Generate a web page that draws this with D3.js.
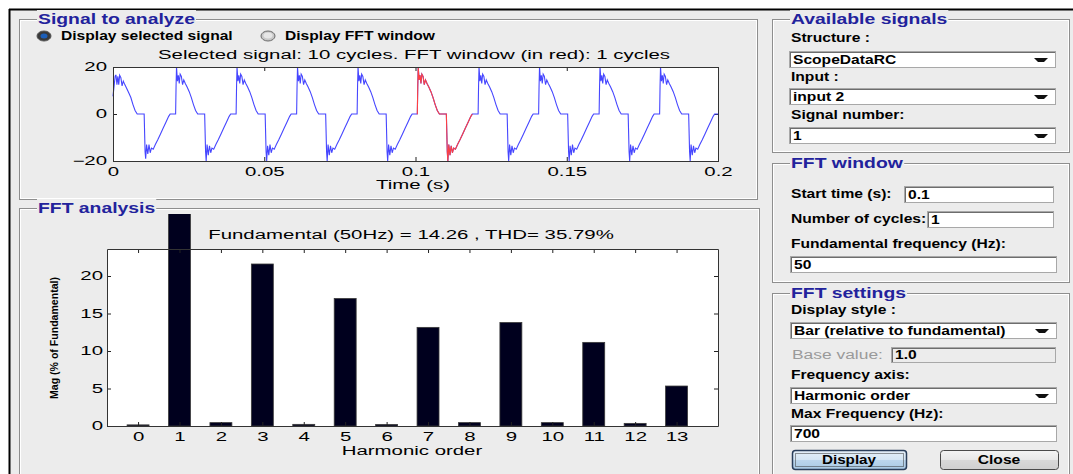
<!DOCTYPE html>
<html><head><meta charset="utf-8">
<script src="https://cdn.jsdelivr.net/npm/d3@7"></script>
<style>
html,body{margin:0;padding:0;background:#fff;}
svg{display:block;font-family:"Liberation Sans",Arial,Helvetica,sans-serif;}
</style></head><body>
<svg id="fig" width="1073" height="474"></svg>
<script>
// ---------------- data ----------------
const harmonicOrders = [0,1,2,3,4,5,6,7,8,9,10,11,12,13];
const harmonicMag    = [0.15,100,0.45,21.6,0.22,17.0,0.2,13.15,0.45,13.8,0.45,11.15,0.35,5.33]; // % of fundamental
const magTicks       = [0,5,10,15,20];
const timeTicks      = [0,0.05,0.1,0.15,0.2];
const timeTickLabels = ["0","0.05","0.1","0.15","0.2"];
const signalTicks    = [-20,0,20];
const fundamentalHz  = 50;
const fundamentalMag = 14.26;
const thdPct         = 35.79;
const totalCycles    = 10;
const fftWindowStart = 0.1;   // s
const fftWindowCycles = 1;

// sampled waveform: first sample, then per-cycle samples at the listed offsets (ms) after each cycle start
const leadIn        = [0, 7.5];          // [ms, value]
const tailOut       = [200, 0];          // [ms, value]
const cycleStartMs  = [0.7, 20.7, 40.7, 60.7, 80.7, 100.6, 120.7, 140.7, 160.7, 180.7];
const sampleOffsetMs = [0,0.15,0.3,0.6,0.9,1.2,1.5,1.9,2.3,2.7,3.2,3.8,4.5,5.2,5.9,6.6,7.3,9.6,9.75,9.9,10.1,10.4,10.8,11.2,11.6,12.0,12.6,13.3,14.1,15.0,15.9,16.8,17.7,18.2,19.99];
const cycleValues = [
  [16,16.5,16.5,12.5,16,12.5,16.5,15.5,12,14,12.5,11,9,7,4,1.5,0, 0,-8,-16,-19,-13,-17,-13,-16.5,-14.5,-15,-13,-11,-8.5,-6,-3.5,-1,0,0],
  [0,12,20,14,16.5,13,17,16,12.5,14.5,13,11.5,9.5,7,4,1.5,0, 0,-8,-16,-20,-13,-17.5,-13.5,-16.5,-14.5,-15,-13,-11,-8.5,-6,-3.5,-1,0,0],
  [0,12,20,14,16.5,13,17,16,12.5,14.5,13,11.5,9.5,7,4,1.5,0, 0,-8,-16,-20,-13.5,-17.5,-13,-16.5,-14.5,-15,-13,-11,-8.5,-6,-3.5,-1,0,0],
  [0,12,20,14,16.5,13,17,16,12.5,14.5,13,11.5,9.5,7,4,1.5,0, 0,-8,-16,-20,-13,-17.5,-13.5,-16.5,-14.5,-15,-13,-11,-8.5,-6,-3.5,-1,0,0],
  [0,12,20,14,16.5,13,17,16,12.5,14.5,13,11.5,9.5,7,4,1.5,0, 0,-8,-16,-20,-13,-17.5,-13.5,-16.5,-14.5,-15,-13,-11,-8.5,-6,-3.5,-1,0,0],
  [0,12,20,14.5,16.5,13,17,16,12.5,14.5,13,11.5,9.5,7,4,1.5,0, 0,-8,-16,-20,-13,-17.5,-13.5,-16.5,-14.5,-15,-13,-11,-8.5,-6,-3.5,-1,0,0],
  [0,12,20,14,16.5,13,17,16,12.5,14.5,13,11.5,9.5,7,4,1.5,0, 0,-8,-16,-20,-13,-17.5,-13.5,-16.5,-14.5,-15,-13,-11,-8.5,-6,-3.5,-1,0,0],
  [0,12,20,14,16.5,13,17,16,12.5,14.5,13,11.5,9.5,7,4,1.5,0, 0,-8,-16,-20,-13.5,-17.5,-13,-16.5,-14.5,-15,-13,-11,-8.5,-6,-3.5,-1,0,0],
  [0,12,20,14,16.5,13,17,16,12.5,14.5,13,11.5,9.5,7,4,1.5,0, 0,-8,-16,-20,-13,-17.5,-13.5,-16.5,-14.5,-15,-13,-11,-8.5,-6,-3.5,-1,0,0],
  [0,12,20,14,16.5,13,17,16,12.5,14.5,13,11.5,9.5,7,4,1.5,0, 0,-8,-16,-20,-13,-17.5,-13.5,-16.5,-14.5,-15,-13,-11,-8.5,-6,-3.5,-1,0,0]
];

// ---------------- build series ----------------
const signal = [{t: leadIn[0]/1000, v: leadIn[1]}];
cycleStartMs.forEach((s, c) => {
  sampleOffsetMs.forEach((o, i) => {
    const t = (s + o) / 1000;
    if (t <= 0.2) signal.push({t, v: cycleValues[c][i]});
  });
});
signal.push({t: tailOut[0]/1000, v: tailOut[1]});
const winEnd = fftWindowStart + fftWindowCycles / fundamentalHz;
const windowed = signal.filter(d => d.t >= fftWindowStart - 1e-9 && d.t <= winEnd + 1e-9);

// ---------------- figure ----------------
const svg = d3.select("#fig");
const BG = "#ececec", BLUE_T = "#22229c";
const AX = {size: 12, k: 1.70};     // axes text: size and horizontal stretch
const GUI = {size: 12, k: 1.30};    // control labels

// widen text glyphs horizontally by factor k, keeping the anchor
function stretch(sel, k) {
  sel.each(function () {
    const w = this.getComputedTextLength();
    if (w > 0) d3.select(this).attr("textLength", w * k).attr("lengthAdjust", "spacingAndGlyphs");
  });
  return sel;
}

svg.append("rect").attr("width",1073).attr("height",474).attr("fill","#fff");
svg.append("rect").attr("x",10).attr("y",10).attr("width",1063).attr("height",464).attr("fill",BG);
svg.append("line").attr("x1",9).attr("x2",1073).attr("y1",9.5).attr("y2",9.5).attr("stroke","#000").attr("stroke-width",2);
svg.append("line").attr("x1",9.5).attr("x2",9.5).attr("y1",9).attr("y2",474).attr("stroke","#000").attr("stroke-width",2);

function panel(x, y, w, h, title) {
  const g = svg.append("g");
  g.append("rect").attr("x",x+0.5).attr("y",y+0.5).attr("width",w).attr("height",h)
    .attr("fill","none").attr("stroke","#8e8e8e");
  g.append("rect").attr("x",x+1.5).attr("y",y+1.5).attr("width",w-2).attr("height",h-2)
    .attr("fill","none").attr("stroke","#ffffff");
  const t = g.append("text").attr("x",x+19).attr("y",y+5).attr("fill",BLUE_T)
    .attr("font-size",15).attr("font-weight","bold").text(title);
  stretch(t, 1.29);
  const bb = t.node().getBBox();
  g.insert("rect","text").attr("x",bb.x-1).attr("y",bb.y).attr("width",bb.width+2).attr("height",bb.height).attr("fill",BG);
  return g;
}
function label(x, y, txt, opts = {}) {
  const t = svg.append("text").attr("x",x).attr("y",y).attr("font-size",opts.size || GUI.size)
    .attr("font-weight", opts.weight || "bold").attr("fill", opts.fill || "#000").text(txt);
  return stretch(t, opts.k || GUI.k);
}
function box(x, y, w, h, fill) {
  svg.append("rect").attr("x",x+0.5).attr("y",y+0.5).attr("width",w).attr("height",h)
    .attr("fill",fill || "#fff").attr("stroke","#a8a8a8");
  svg.append("line").attr("x1",x+1).attr("x2",x+w).attr("y1",y+1.5).attr("y2",y+1.5).attr("stroke","#6d6d6d");
  svg.append("line").attr("x1",x+1.5).attr("x2",x+1.5).attr("y1",y+1).attr("y2",y+h).attr("stroke","#6d6d6d");
}
function edit(x, y, w, h, txt, fill) {
  box(x, y, w, h, fill);
  label(x+4, y+h-3.5, txt);
}
function dropdown(x, y, w, h, txt) {
  box(x, y, w, h);
  label(x+4, y+h-3.5, txt);
  const cx = x + w - 14, cy = y + h/2 + 0.5;
  svg.append("path").attr("d",`M${cx-7},${cy-1.5}H${cx+7}L${cx+3},${cy+2.5}H${cx-3}Z`).attr("fill","#111");
}
function button(x, y, w, h, txt, focused, k) {
  const id = "g" + txt;
  const gr = svg.append("defs").append("linearGradient").attr("id",id).attr("x1",0).attr("x2",0).attr("y1",0).attr("y2",1);
  gr.append("stop").attr("offset","0%").attr("stop-color", focused ? "#e6f0f8" : "#f4f4f4");
  gr.append("stop").attr("offset","48%").attr("stop-color", focused ? "#d5e6f4" : "#e8e8e8");
  gr.append("stop").attr("offset","52%").attr("stop-color", focused ? "#bcd6ec" : "#d8d8d8");
  gr.append("stop").attr("offset","100%").attr("stop-color", focused ? "#a9c9e4" : "#cfcfcf");
  svg.append("rect").attr("x",x+0.5).attr("y",y+0.5).attr("width",w).attr("height",h).attr("rx",3)
    .attr("fill",`url(#${id})`).attr("stroke", focused ? "#2a3e5a" : "#4a4a4a").attr("stroke-width", focused ? 1.5 : 1);
  if (focused) svg.append("rect").attr("x",x+3.5).attr("y",y+3.5).attr("width",w-6).attr("height",h-6)
    .attr("fill","none").attr("stroke","#333").attr("stroke-dasharray","1,1");
  const t = svg.append("text").attr("x",x+w/2).attr("y",y+h-5).attr("text-anchor","middle").attr("font-size",13)
    .attr("font-weight","bold").text(txt);
  stretch(t, k);
}
function axText(g, x, y, txt) {
  const t = g.append("text").attr("x",x).attr("y",y).attr("text-anchor","middle").attr("font-size",AX.size).text(txt);
  return stretch(t, AX.k);
}

// ---- left panels ----
panel(19, 19, 738, 180, "Signal to analyze");
panel(19, 208, 740, 280, "FFT analysis");

// radio buttons
svg.append("ellipse").attr("cx",44).attr("cy",36).attr("rx",7).attr("ry",5).attr("fill","#3a3a3a").attr("stroke","#555");
svg.append("ellipse").attr("cx",44).attr("cy",36).attr("rx",3.5).attr("ry",2.5).attr("fill","#1d5fb8");
label(61, 40, "Display selected signal");
svg.append("ellipse").attr("cx",268).attr("cy",36).attr("rx",7).attr("ry",5).attr("fill","#c8c8c8").attr("stroke","#6a6a6a");
svg.append("ellipse").attr("cx",268).attr("cy",35.5).attr("rx",4.5).attr("ry",3).attr("fill","#e6e6e6");
label(285, 40, "Display FFT window");

// ---- signal plot ----
const sx = d3.scaleLinear().domain([0, 0.2]).range([113, 718]);
const sy = d3.scaleLinear().domain([-20, 20]).range([161, 67]);
const sp = svg.append("g");
sp.append("rect").attr("x",113).attr("y",67).attr("width",605).attr("height",94).attr("fill","#fff");
function styleAxis(g) {
  g.select(".domain").remove();
  g.selectAll(".tick line").attr("stroke","#222");
  g.selectAll("text").attr("font-size",AX.size).attr("fill","#000")
    .attr("font-family","'Liberation Sans',Arial,sans-serif");
  stretch(g.selectAll("text"), AX.k);
}
sp.append("g").attr("transform","translate(0,161)")
  .call(d3.axisBottom(sx).tickValues(timeTicks).tickFormat((d,i)=>timeTickLabels[i]).tickSize(-4).tickPadding(6.5)).call(styleAxis);
sp.append("g").attr("transform","translate(0,67)")
  .call(d3.axisTop(sx).tickValues(timeTicks).tickFormat("").tickSize(-4)).call(styleAxis);
sp.append("g").attr("transform","translate(113,0)")
  .call(d3.axisLeft(sy).tickValues(signalTicks).tickSize(-4).tickPadding(6)).call(styleAxis);
sp.append("g").attr("transform","translate(718,0)")
  .call(d3.axisRight(sy).tickValues(signalTicks).tickFormat("").tickSize(-4)).call(styleAxis);
const sline = d3.line().x(d => sx(d.t)).y(d => sy(d.v));
sp.append("path").datum(signal).attr("d",sline).attr("fill","none").attr("stroke","#4646ff").attr("stroke-width",1.1);
sp.append("path").datum(windowed).attr("d",sline).attr("fill","none").attr("stroke","#ff4040").attr("stroke-width",1.1);
sp.append("rect").attr("x",113.5).attr("y",67.5).attr("width",605).attr("height",94).attr("fill","none").attr("stroke","#333");
axText(sp, 414, 59, `Selected signal: ${totalCycles} cycles. FFT window (in red): ${fftWindowCycles} cycles`);
axText(sp, 413, 189, "Time (s)");

// ---- FFT bar chart ----
const bx = d3.scaleLinear().domain([-0.75, 14]).range([107, 718]);
const by = d3.scaleLinear().domain([0, 23.6]).range([426, 249]);
const bp = svg.append("g");
bp.append("rect").attr("x",107).attr("y",249).attr("width",611).attr("height",177).attr("fill","#fff");
bp.append("clipPath").attr("id","barclip").append("rect").attr("x",19).attr("y",214).attr("width",740).attr("height",260);
const barHalf = 0.265;
bp.append("g").attr("clip-path","url(#barclip)").selectAll("rect").data(harmonicOrders).join("rect")
  .attr("x", d => bx(d - barHalf)).attr("width", d => bx(d + barHalf) - bx(d - barHalf))
  .attr("y", (d,i) => by(harmonicMag[i])).attr("height", (d,i) => by(0) - by(harmonicMag[i]))
  .attr("fill","#00001e").attr("stroke","#3a3a3a").attr("stroke-width",0.8);
bp.append("g").attr("transform","translate(0,426)")
  .call(d3.axisBottom(bx).tickValues(harmonicOrders).tickSize(-4).tickPadding(6.5)).call(styleAxis);
bp.append("g").attr("transform","translate(0,249)")
  .call(d3.axisTop(bx).tickValues(harmonicOrders).tickFormat("").tickSize(-4)).call(styleAxis);
bp.append("g").attr("transform","translate(107,0)")
  .call(d3.axisLeft(by).tickValues(magTicks).tickSize(-4).tickPadding(4)).call(styleAxis);
bp.append("g").attr("transform","translate(718,0)")
  .call(d3.axisRight(by).tickValues(magTicks).tickFormat("").tickSize(-4)).call(styleAxis);
bp.append("path").attr("d","M107.5,249.5H718.5V426.5H107.5Z").attr("fill","none").attr("stroke","#333");
axText(bp, 411, 239, `Fundamental (${fundamentalHz}Hz) = ${fundamentalMag.toFixed(2)} , THD= ${thdPct.toFixed(2)}%`);
axText(bp, 412, 455, "Harmonic order");
bp.append("text").attr("transform","translate(58,338) rotate(-90)").attr("text-anchor","middle")
  .attr("font-size",11).attr("font-weight","bold").attr("textLength",122).attr("lengthAdjust","spacingAndGlyphs")
  .text("Mag (% of Fundamental)");

// ---- right panels ----
panel(772, 19, 297, 133, "Available signals");
label(791, 42, "Structure :");
dropdown(789, 51, 266, 16, "ScopeDataRC");
label(791, 81, "Input :");
dropdown(789, 88, 266, 16, "input 2");
label(791, 119, "Signal number:");
dropdown(789, 127, 266, 16, "1");

panel(772, 163, 297, 119, "FFT window");
label(791, 198, "Start time (s):");
edit(904, 186, 149, 16, String(fftWindowStart));
label(791, 223, "Number of cycles:");
edit(927, 211, 126, 16, String(fftWindowCycles));
label(791, 248, "Fundamental frequency (Hz):");
edit(790, 256, 266, 16, String(fundamentalHz));

panel(772, 293, 297, 200, "FFT settings");
label(791, 314, "Display style :");
dropdown(790, 322, 266, 16, "Bar (relative to fundamental)");
label(792, 359, "Base value:", {weight: "normal", fill: "#9a9a9a", k: 1.45});
edit(891, 347, 164, 15, "1.0", "#ececec");
label(791, 379, "Frequency axis:");
dropdown(790, 387, 266, 16, "Harmonic order");
label(791, 418, "Max Frequency (Hz):");
edit(790, 425, 266, 16, "700");
button(792, 450, 114, 19, "Display", true, 1.17);
button(940, 450, 118, 19, "Close", false, 1.2);
</script>
</body></html>
